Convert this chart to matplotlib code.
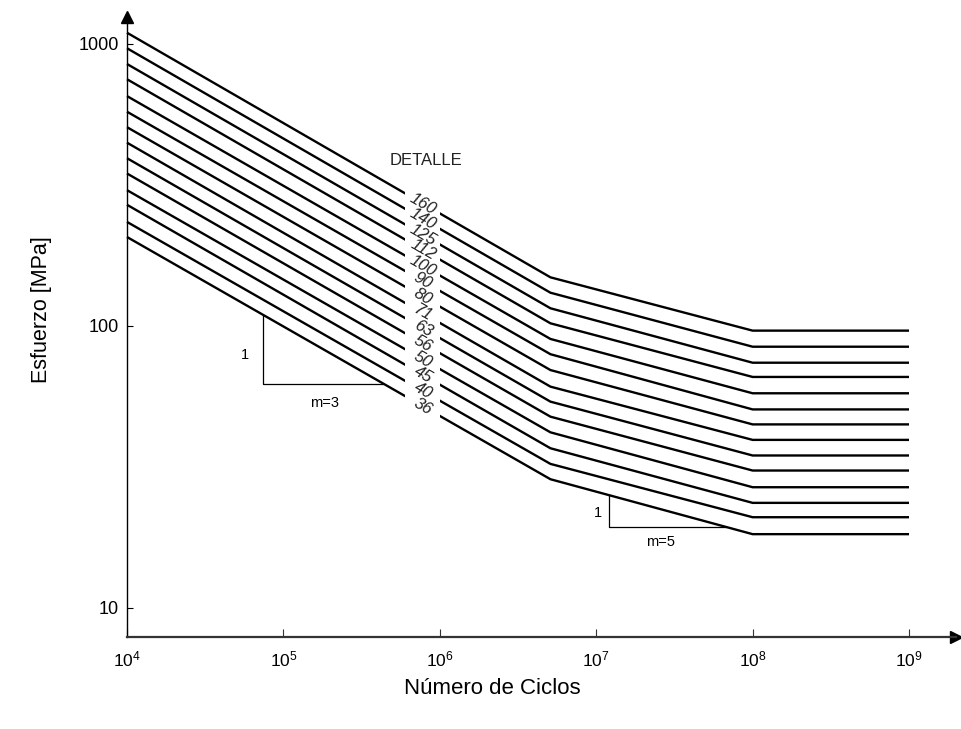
import numpy as np
import matplotlib
matplotlib.use('Agg')
import matplotlib.pyplot as plt
from matplotlib.patches import Rectangle
from matplotlib.ticker import FixedLocator, NullLocator, FuncFormatter

plt.rcParams['font.family'] = ['Liberation Sans', 'DejaVu Sans']
plt.rcParams['mathtext.fontset'] = 'custom'
plt.rcParams['mathtext.rm'] = 'Liberation Sans'
plt.rcParams['mathtext.it'] = 'Liberation Sans:italic'

# ---- data ----
categories = ['160', '140', '125', '112', '100', '90', '80', '71', '63', '56', '50', '45', '40', '36']
n_start = 1e4
n_knee = 5.1e6
n_cutoff = 1e8
n_end = 1e9
s_start = [1092, 962, 846, 747, 651, 573, 505, 445, 392, 346, 302, 268, 233, 206]
s_knee = [148.2, 130.7, 115.1, 101.8, 89.6, 79.1, 69.5, 60.7, 53.7, 47.5, 41.8, 36.7, 32.3, 28.5]
s_cutoff = [95.9, 84.1, 73.8, 65.7, 57.5, 50.4, 44.6, 39.3, 34.6, 30.6, 26.7, 23.5, 20.9, 18.2]
gap_n = [6e5, 1e6]          # gap in the curves where labels sit
x_ticks = [1e4, 1e5, 1e6, 1e7, 1e8, 1e9]
y_ticks = [10, 100, 1000]
tri3_n = [7.4e4, 4.35e5]     # slope triangle m=3 on lowest curve
tri5_n = [1.21e7, 6.8e7]     # slope triangle m=5 on lowest curve

W, H = 962, 729
fig = plt.figure(figsize=(W / 100, H / 100), dpi=100)
ax_left, ax_bottom, ax_right, ax_top = 127, 637, 956, 17
ax = fig.add_axes([ax_left / W, 1 - ax_bottom / H, (ax_right - ax_left) / W, (ax_bottom - ax_top) / H])
ax.set_xscale('log')
ax.set_yscale('log')
ax.set_xlim(1e4, 10 ** 9.3005)
ax.set_ylim(10 ** 0.8954, 10 ** 3.094)

clip_left = Rectangle((1e3, 1e-2), gap_n[0] - 1e3, 1e6, transform=ax.transData)
clip_right = Rectangle((gap_n[1], 1e-2), 1e11, 1e6, transform=ax.transData)

for i, cat in enumerate(categories):
    xs = [n_start, n_knee, n_cutoff, n_end]
    ys = [s_start[i], s_knee[i], s_cutoff[i], s_cutoff[i]]
    for cp in (clip_left, clip_right):
        ln, = ax.plot(xs, ys, color='black', lw=1.7, solid_capstyle='butt', solid_joinstyle='miter')
        ln.set_clip_path(cp)

# labels in the gap
lab_n = 7.8e5
fig.canvas.draw()
for i, cat in enumerate(categories):
    ly = 10 ** np.interp(np.log10(lab_n), np.log10([n_start, n_knee]), np.log10([s_start[i], s_knee[i]]))
    p1 = ax.transData.transform((n_start, s_start[i]))
    p2 = ax.transData.transform((n_knee, s_knee[i]))
    ang = np.degrees(np.arctan2(p2[1] - p1[1], p2[0] - p1[0]))
    ax.text(lab_n, ly, cat, rotation=ang, rotation_mode='anchor', ha='center', va='center',
            fontsize=12, style='italic', color='#222222')

ax.text(8.16e5, 386, 'DETALLE', ha='center', va='center', fontsize=12, color='#222222')

# slope triangles on lowest curve
def low_curve(n):
    return 10 ** np.interp(np.log10(n), np.log10([n_start, n_knee, n_cutoff, n_end]),
                           np.log10([s_start[-1], s_knee[-1], s_cutoff[-1], s_cutoff[-1]]))

for tri in (tri3_n, tri5_n):
    a, b = tri
    ax.plot([a, a, b], [low_curve(a), low_curve(b), low_curve(b)], color='black', lw=0.9)

ax.text(5.68e4, 78.6, '1', ha='center', va='center', fontsize=10.5)
ax.text(1.845e5, 53.1, 'm=3', ha='center', va='center', fontsize=10.5)
ax.text(1.027e7, 21.6, '1', ha='center', va='center', fontsize=10.5)
ax.text(2.56e7, 17.1, 'm=5', ha='center', va='center', fontsize=10.5)

# axes styling
for s in ('top', 'right'):
    ax.spines[s].set_visible(False)
ax.spines['left'].set_linewidth(1.0)
ax.spines['bottom'].set_linewidth(1.6)
ax.spines['bottom'].set_color('#333333')
ax.xaxis.set_major_locator(FixedLocator(x_ticks))
ax.xaxis.set_minor_locator(NullLocator())
ax.yaxis.set_major_locator(FixedLocator(y_ticks))
ax.yaxis.set_minor_locator(NullLocator())
ax.xaxis.set_major_formatter(FuncFormatter(lambda v, p: r'$\mathdefault{10^{%d}}$' % round(np.log10(v))))
ax.yaxis.set_major_formatter(FuncFormatter(lambda v, p: '%d' % v))
ax.tick_params(axis='x', direction='in', length=6, width=0.8, pad=9, labelsize=12.5, color='#333333')
ax.tick_params(axis='y', direction='in', length=4, width=0.8, pad=6, labelsize=13)

ax.plot(1, 0, '>', color='black', markersize=9, transform=ax.transAxes, clip_on=False)
ax.plot(0, 1, '^', color='black', markersize=9, transform=ax.transAxes, clip_on=False)

ax.set_xlabel('Número de Ciclos', fontsize=16, va='center')
ax.xaxis.set_label_coords((492 - ax_left) / (ax_right - ax_left), -(688 - ax_bottom) / (ax_bottom - ax_top))
ax.set_ylabel('Esfuerzo [MPa]', fontsize=15.5, va='center')
ax.yaxis.set_label_coords(-(ax_left - 42) / (ax_right - ax_left), (ax_bottom - 310) / (ax_bottom - ax_top))

fig.savefig('out.png', dpi=100)
